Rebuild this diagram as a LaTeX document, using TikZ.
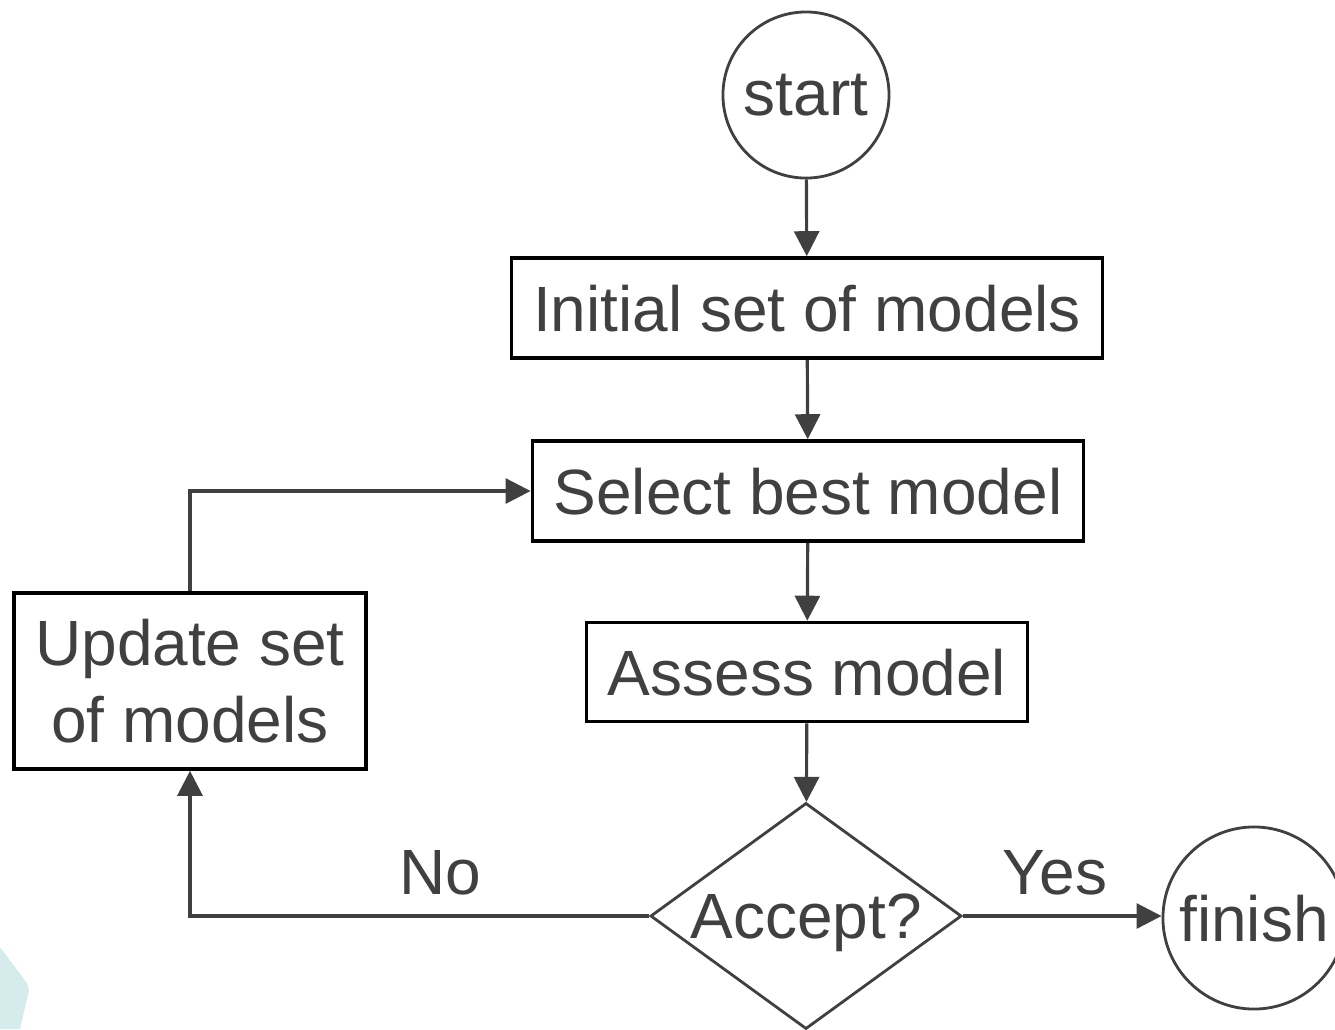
\documentclass[tikz,border=0pt]{standalone}
\usepackage{fontspec}
\setmainfont{Liberation Sans}
\usepackage{tikz}
\usetikzlibrary{shapes.geometric,arrows.meta}
\definecolor{ink}{HTML}{404040}
\definecolor{mist}{HTML}{D6ECEC}

\begin{document}
\begin{tikzpicture}[x=0.01cm, y=-0.01cm]
        \tikzstyle{every node}=[text=ink, font=\fontsize{18.2}{21.9}\selectfont, text depth=0pt]
        \tikzstyle{stage}=[draw=black, line width=1pt, minimum height=1cm, inner sep=0pt]
        \tikzstyle{terminal}=[draw=ink, circle, line width=0.8pt, inner sep=0pt]
        \tikzstyle{flow}=[draw=ink, line width=0.9pt, -{Triangle[length=0.25cm, width=0.25cm]}]

        \useasboundingbox (0,0) rectangle (1335,1029);
        \fill[mist] (0,947) -- (27,983) -- (29,990) -- (20,1029) -- (0,1029) -- cycle;

        \node   (start)   [terminal, minimum size=1.66cm] at (806,95) {start};
        \node   (initial) [stage, minimum width=5.91cm] at (807,308) {Initial set of models};
        \node   (select)  [stage, minimum width=5.51cm] at (808,491) {Select best model};
        \node   (assess)  [stage, minimum width=4.41cm, minimum height=0.99cm] at (807,672) {Assess model};
        \node   (accept)  [diamond, draw=ink, line width=0.8pt, aspect=1.37, inner sep=0pt,
                           minimum width=3.11cm, minimum height=2.26cm] at (806,916) {Accept?};
        \node   (finish)  [terminal, minimum size=1.82cm] at (1254,918) {finish};
        \node   (update)  [stage, minimum width=3.52cm, minimum height=1.76cm, align=center] at (190,681) {Update set\\of models};
        \node   (no)  at (440,872) {No};
        \node   (yes) at (1055,872) {Yes};

        \draw[flow] (start) -- (initial);
        \draw[flow] (initial) -- (select);
        \draw[flow] (select) -- (assess);
        \draw[flow] (assess) -- (accept);
        \draw[flow] (accept.east) -- (finish.west |- accept.east);
        \draw[flow] (accept.west) -| (update.south);
        \draw[flow] (update.north) |- (select.west);

    \end{tikzpicture}
\end{document}
